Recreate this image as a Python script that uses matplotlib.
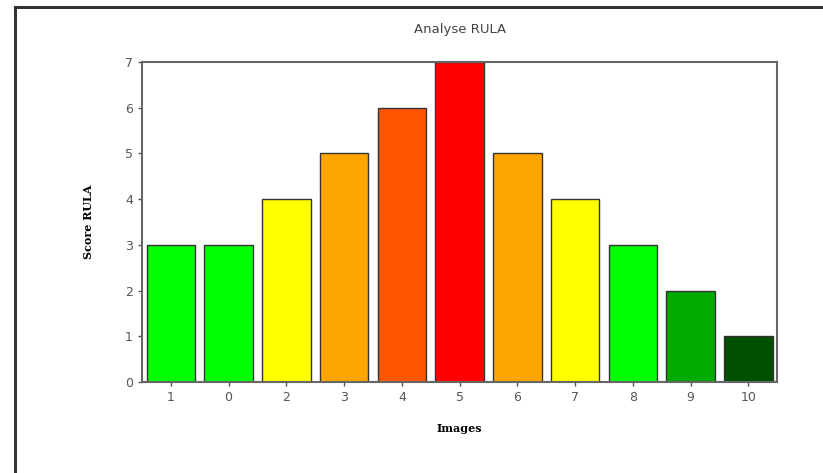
import matplotlib.pyplot as plt
from matplotlib.lines import Line2D

# data
labels = ['1', '0', '2', '3', '4', '5', '6', '7', '8', '9', '10']
scores = [3, 3, 4, 5, 6, 7, 5, 4, 3, 2, 1]
colors = ['#00ff00', '#00ff00', '#ffff00', '#ffa500', '#ff5500', '#ff0000',
          '#ffa500', '#ffff00', '#00ff00', '#00aa00', '#005000']

fig = plt.figure(figsize=(8.23, 4.73), dpi=100)
ax = fig.add_axes([0.1725, 0.1924, 0.772, 0.677])

x = range(len(labels))
ax.bar(x, scores, width=0.84, color=colors, edgecolor='#333333', linewidth=1)

ax.set_xlim(-0.5, len(labels) - 0.5)
ax.set_ylim(0, 7)
ax.set_xticks(list(x))
ax.set_xticklabels(labels)
ax.set_yticks(range(8))
ax.tick_params(colors='#555555', labelcolor='#555555', labelsize=9, length=3, width=1)
for s in ax.spines.values():
    s.set_color('#666666')
    s.set_linewidth(1.5)

ax.set_title('Analyse RULA', fontsize=9.5, color='#444444', pad=21)
ax.set_xlabel('Images', family='DejaVu Serif', fontweight='bold', fontsize=8, labelpad=14)
ax.set_ylabel('Score RULA', family='DejaVu Serif', fontweight='bold', fontsize=8, labelpad=22)

# outer frame: only top and left edges show
fig.add_artist(Line2D([0.018, 1.0], [0.985, 0.985], transform=fig.transFigure, color='#333333', lw=2.2))
fig.add_artist(Line2D([0.018, 0.018], [0.0, 0.985], transform=fig.transFigure, color='#333333', lw=2.2))

fig.savefig('out.png', dpi=100)
